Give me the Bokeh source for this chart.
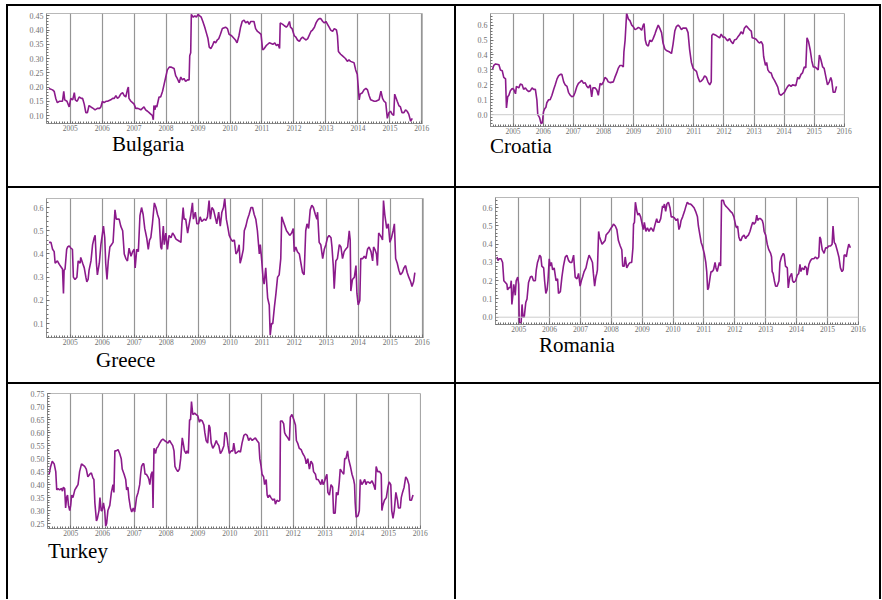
from bokeh.plotting import figure
from bokeh.layouts import row, column
from bokeh.models import (ColumnDataSource, Range1d, SingleIntervalTicker,
                          NumeralTickFormatter, Span, Div, Spacer)
from bokeh.embed import file_html
from bokeh.resources import INLINE

# ---------------- data (decimal year, value) ----------------
bulgaria_t = [2004.34,2004.45,2004.50,2004.55,2004.60,2004.66,2004.71,2004.76,2004.80,2004.83,
              2004.90,2004.97,2005.02,2005.08,2005.13,2005.16,2005.22,2005.28,2005.35,2005.39,
              2005.44,2005.49,2005.54,2005.59,2005.65,2005.72,2005.78,2005.85,2005.92,2005.96,
              2006.01,2006.06,2006.12,2006.17,2006.27,2006.33,2006.38,2006.43,2006.48,2006.53,
              2006.58,2006.64,2006.69,2006.74,2006.79,2006.82,2006.84,2006.90,2006.95,2007.00,
              2007.05,2007.12,2007.21,2007.26,2007.31,2007.36,2007.42,2007.47,2007.52,2007.57,
              2007.60,2007.62,2007.65,2007.68,2007.71,2007.75,2007.78,2007.83,2007.89,2007.94,
              2007.99,2008.04,2008.10,2008.15,2008.25,2008.30,2008.35,2008.41,2008.46,2008.51,
              2008.56,2008.61,2008.67,2008.72,2008.74,2008.77,2008.79,2008.85,2008.90,2008.95,
              2009.00,2009.05,2009.10,2009.15,2009.21,2009.26,2009.31,2009.35,2009.40,2009.45,
              2009.50,2009.55,2009.60,2009.65,2009.70,2009.76,2009.86,2009.92,2009.97,2010.05,
              2010.17,2010.22,2010.28,2010.33,2010.38,2010.44,2010.49,2010.55,2010.60,2010.65,
              2010.75,2010.80,2010.86,2010.92,2010.97,2011.02,2011.07,2011.13,2011.18,2011.23,
              2011.34,2011.40,2011.45,2011.50,2011.55,2011.57,2011.65,2011.70,2011.76,2011.80,
              2011.86,2011.89,2011.94,2012.01,2012.06,2012.11,2012.17,2012.22,2012.27,2012.32,
              2012.38,2012.43,2012.53,2012.58,2012.64,2012.69,2012.74,2012.79,2012.84,2012.90,
              2012.95,2013.00,2013.05,2013.10,2013.15,2013.21,2013.26,2013.33,2013.36,2013.39,
              2013.46,2013.51,2013.61,2013.67,2013.72,2013.77,2013.88,2013.93,2013.98,2014.04,
              2014.07,2014.14,2014.19,2014.25,2014.30,2014.35,2014.40,2014.51,2014.56,2014.66,
              2014.72,2014.77,2014.82,2014.87,2014.92,2014.97,2015.02,2015.07,2015.12,2015.15,
              2015.23,2015.28,2015.33,2015.38,2015.44,2015.49,2015.54,2015.59,2015.65,2015.70]
bulgaria_v = [0.195,0.19,0.185,0.16,0.145,0.15,0.15,0.15,0.185,0.155,
              0.15,0.13,0.16,0.155,0.18,0.155,0.15,0.165,0.16,0.16,
              0.14,0.11,0.11,0.135,0.13,0.125,0.12,0.125,0.125,0.13,
              0.15,0.145,0.15,0.15,0.155,0.16,0.16,0.17,0.16,0.165,
              0.175,0.18,0.17,0.165,0.19,0.20,0.16,0.15,0.145,0.14,
              0.125,0.125,0.12,0.125,0.13,0.12,0.115,0.11,0.105,0.10,
              0.085,0.135,0.12,0.135,0.13,0.15,0.165,0.165,0.185,0.21,
              0.235,0.26,0.27,0.27,0.265,0.24,0.23,0.215,0.235,0.225,
              0.23,0.22,0.225,0.225,0.31,0.32,0.455,0.445,0.45,0.445,
              0.455,0.45,0.445,0.43,0.41,0.39,0.37,0.34,0.335,0.345,
              0.36,0.355,0.365,0.37,0.385,0.405,0.41,0.405,0.385,0.38,
              0.365,0.355,0.38,0.41,0.43,0.435,0.425,0.43,0.42,0.43,
              0.43,0.405,0.395,0.39,0.385,0.33,0.335,0.345,0.35,0.355,
              0.35,0.355,0.345,0.35,0.335,0.425,0.42,0.415,0.41,0.415,
              0.43,0.41,0.405,0.38,0.375,0.365,0.36,0.37,0.375,0.37,
              0.365,0.37,0.395,0.40,0.41,0.425,0.435,0.44,0.44,0.43,
              0.425,0.43,0.42,0.41,0.40,0.395,0.405,0.40,0.38,0.325,
              0.315,0.31,0.30,0.29,0.295,0.29,0.285,0.26,0.245,0.155,
              0.175,0.18,0.19,0.195,0.19,0.17,0.155,0.15,0.15,0.155,
              0.185,0.16,0.15,0.145,0.09,0.11,0.115,0.105,0.10,0.175,
              0.15,0.135,0.13,0.11,0.11,0.12,0.115,0.105,0.08,0.09]

croatia_t = [2004.31,2004.36,2004.42,2004.53,2004.58,2004.64,2004.69,2004.75,2004.78,2004.82,
             2004.86,2004.91,2004.97,2005.02,2005.08,2005.11,2005.19,2005.24,2005.30,2005.35,
             2005.41,2005.46,2005.52,2005.57,2005.63,2005.68,2005.74,2005.79,2005.82,2005.88,
             2005.93,2005.97,2006.01,2006.05,2006.09,2006.12,2006.18,2006.23,2006.29,2006.35,
             2006.40,2006.46,2006.51,2006.57,2006.62,2006.68,2006.73,2006.79,2006.84,2006.90,
             2006.95,2007.01,2007.06,2007.12,2007.17,2007.23,2007.28,2007.34,2007.39,2007.45,
             2007.50,2007.56,2007.61,2007.65,2007.72,2007.78,2007.83,2007.89,2007.94,2008.00,
             2008.05,2008.11,2008.16,2008.22,2008.33,2008.38,2008.44,2008.49,2008.55,2008.61,
             2008.66,2008.68,2008.72,2008.77,2008.83,2008.88,2008.94,2008.99,2009.05,2009.10,
             2009.16,2009.21,2009.27,2009.32,2009.35,2009.39,2009.43,2009.49,2009.54,2009.60,
             2009.65,2009.71,2009.76,2009.82,2009.87,2009.93,2009.98,2010.04,2010.09,2010.20,
             2010.26,2010.31,2010.37,2010.42,2010.48,2010.53,2010.59,2010.64,2010.75,2010.81,
             2010.86,2010.92,2010.98,2011.03,2011.09,2011.14,2011.20,2011.25,2011.31,2011.36,
             2011.42,2011.47,2011.53,2011.58,2011.60,2011.64,2011.75,2011.86,2011.91,2011.97,
             2012.02,2012.08,2012.13,2012.19,2012.24,2012.30,2012.35,2012.41,2012.46,2012.52,
             2012.57,2012.63,2012.68,2012.74,2012.79,2012.85,2012.91,2012.94,2013.02,2013.07,
             2013.13,2013.18,2013.24,2013.29,2013.32,2013.38,2013.42,2013.46,2013.51,2013.57,
             2013.62,2013.68,2013.73,2013.79,2013.84,2013.90,2013.95,2014.01,2014.06,2014.12,
             2014.17,2014.23,2014.28,2014.39,2014.45,2014.50,2014.56,2014.61,2014.67,2014.72,
             2014.76,2014.81,2014.87,2014.92,2014.97,2015.02,2015.08,2015.13,2015.17,2015.22,
             2015.28,2015.33,2015.39,2015.44,2015.50,2015.55,2015.58,2015.63,2015.69,2015.74]
croatia_v = [0.30,0.33,0.34,0.335,0.30,0.295,0.25,0.24,0.045,0.12,
             0.13,0.16,0.175,0.17,0.14,0.19,0.18,0.205,0.20,0.17,
             0.18,0.165,0.155,0.16,0.18,0.17,0.17,0.10,0.0,-0.02,
             -0.06,-0.055,0.02,0.04,0.05,0.08,0.10,0.10,0.13,0.17,
             0.20,0.24,0.26,0.27,0.27,0.22,0.20,0.19,0.15,0.13,
             0.12,0.125,0.15,0.19,0.21,0.22,0.23,0.21,0.215,0.19,
             0.18,0.20,0.12,0.18,0.18,0.165,0.13,0.21,0.20,0.22,
             0.25,0.24,0.22,0.215,0.22,0.25,0.28,0.31,0.33,0.33,
             0.32,0.42,0.50,0.68,0.64,0.63,0.60,0.59,0.57,0.575,
             0.585,0.58,0.565,0.60,0.61,0.50,0.47,0.46,0.50,0.49,
             0.51,0.54,0.57,0.60,0.58,0.55,0.48,0.44,0.43,0.42,
             0.41,0.47,0.56,0.59,0.60,0.59,0.57,0.58,0.58,0.55,
             0.44,0.35,0.31,0.30,0.29,0.25,0.22,0.225,0.24,0.26,
             0.25,0.22,0.20,0.22,0.53,0.54,0.53,0.515,0.54,0.52,
             0.52,0.505,0.495,0.51,0.49,0.475,0.50,0.505,0.52,0.535,
             0.555,0.54,0.58,0.595,0.585,0.57,0.56,0.515,0.51,0.505,
             0.49,0.48,0.49,0.47,0.39,0.33,0.35,0.30,0.285,0.28,
             0.25,0.23,0.21,0.185,0.14,0.13,0.14,0.15,0.17,0.19,
             0.20,0.19,0.20,0.195,0.25,0.24,0.27,0.28,0.32,0.315,
             0.515,0.49,0.43,0.36,0.32,0.32,0.31,0.30,0.40,0.37,
             0.32,0.31,0.25,0.20,0.22,0.25,0.23,0.15,0.15,0.19]

greece_t = [2004.34,2004.40,2004.45,2004.50,2004.53,2004.60,2004.66,2004.71,2004.76,2004.79,
            2004.81,2004.84,2004.89,2004.92,2004.97,2005.02,2005.07,2005.10,2005.15,2005.21,
            2005.25,2005.31,2005.33,2005.39,2005.44,2005.49,2005.52,2005.56,2005.59,2005.65,
            2005.70,2005.75,2005.78,2005.82,2005.85,2005.91,2005.96,2006.01,2006.04,2006.08,
            2006.11,2006.15,2006.19,2006.24,2006.29,2006.34,2006.40,2006.44,2006.48,2006.53,
            2006.58,2006.64,2006.69,2006.74,2006.79,2006.84,2006.90,2006.95,2007.00,2007.03,
            2007.08,2007.13,2007.18,2007.23,2007.28,2007.33,2007.39,2007.44,2007.48,2007.52,
            2007.57,2007.63,2007.68,2007.73,2007.78,2007.83,2007.86,2007.91,2007.94,2007.99,
            2008.04,2008.09,2008.15,2008.20,2008.25,2008.30,2008.35,2008.41,2008.46,2008.49,
            2008.53,2008.56,2008.61,2008.67,2008.72,2008.77,2008.82,2008.85,2008.91,2008.96,
            2009.01,2009.06,2009.11,2009.19,2009.24,2009.29,2009.34,2009.38,2009.43,2009.48,
            2009.53,2009.58,2009.64,2009.69,2009.74,2009.79,2009.83,2009.88,2009.92,2009.97,
            2010.02,2010.07,2010.13,2010.18,2010.23,2010.28,2010.31,2010.35,2010.41,2010.44,
            2010.49,2010.54,2010.59,2010.65,2010.70,2010.75,2010.80,2010.85,2010.91,2010.94,
            2010.98,2011.03,2011.06,2011.11,2011.17,2011.22,2011.25,2011.29,2011.33,2011.38,
            2011.43,2011.48,2011.53,2011.58,2011.61,2011.66,2011.71,2011.76,2011.81,2011.86,
            2011.92,2011.97,2012.00,2012.05,2012.10,2012.16,2012.21,2012.26,2012.31,2012.36,
            2012.40,2012.45,2012.50,2012.55,2012.60,2012.66,2012.71,2012.73,2012.78,2012.83,
            2012.89,2012.94,2012.99,2013.04,2013.09,2013.15,2013.18,2013.22,2013.25,2013.30,
            2013.35,2013.41,2013.46,2013.51,2013.56,2013.61,2013.67,2013.72,2013.75,2013.77,
            2013.82,2013.88,2013.93,2013.96,2014.00,2014.05,2014.08,2014.14,2014.19,2014.24,
            2014.29,2014.34,2014.40,2014.45,2014.48,2014.52,2014.57,2014.60,2014.64,2014.69,
            2014.73,2014.76,2014.79,2014.83,2014.89,2014.94,2014.99,2015.04,2015.09,2015.13,
            2015.17,2015.22,2015.27,2015.32,2015.38,2015.43,2015.48,2015.53,2015.58,2015.64,
            2015.68,2015.73,2015.77]
greece_v = [0.45,0.45,0.42,0.41,0.36,0.37,0.355,0.345,0.335,0.23,
            0.33,0.335,0.42,0.43,0.435,0.425,0.42,0.30,0.29,0.30,
            0.37,0.36,0.385,0.36,0.34,0.30,0.28,0.29,0.33,0.37,
            0.44,0.47,0.48,0.36,0.31,0.36,0.44,0.49,0.52,0.47,
            0.36,0.29,0.37,0.43,0.44,0.45,0.59,0.55,0.55,0.55,
            0.52,0.50,0.40,0.38,0.37,0.425,0.39,0.41,0.42,0.34,
            0.42,0.41,0.565,0.60,0.57,0.51,0.47,0.42,0.46,0.47,
            0.53,0.62,0.60,0.57,0.55,0.43,0.42,0.52,0.44,0.49,
            0.42,0.48,0.47,0.49,0.48,0.465,0.46,0.455,0.45,0.53,
            0.60,0.55,0.55,0.49,0.53,0.57,0.62,0.55,0.58,0.53,
            0.53,0.56,0.54,0.55,0.545,0.56,0.63,0.55,0.60,0.59,
            0.56,0.53,0.58,0.52,0.58,0.60,0.64,0.55,0.52,0.48,
            0.465,0.455,0.46,0.40,0.41,0.44,0.36,0.38,0.42,0.50,
            0.52,0.55,0.57,0.60,0.60,0.57,0.55,0.50,0.40,0.44,
            0.38,0.29,0.27,0.34,0.21,0.18,0.05,0.10,0.10,0.17,
            0.23,0.30,0.31,0.38,0.56,0.54,0.52,0.50,0.49,0.48,
            0.49,0.51,0.41,0.43,0.41,0.40,0.36,0.32,0.31,0.50,
            0.53,0.51,0.59,0.61,0.60,0.57,0.55,0.58,0.45,0.44,
            0.38,0.42,0.44,0.47,0.48,0.47,0.43,0.35,0.25,0.37,
            0.38,0.44,0.43,0.38,0.41,0.42,0.43,0.50,0.46,0.24,
            0.29,0.30,0.35,0.23,0.18,0.20,0.38,0.38,0.39,0.38,
            0.42,0.43,0.41,0.37,0.43,0.42,0.40,0.35,0.49,0.48,
            0.47,0.46,0.63,0.57,0.51,0.53,0.45,0.47,0.50,0.53,
            0.38,0.36,0.33,0.31,0.32,0.34,0.35,0.32,0.30,0.28,
            0.26,0.28,0.32]

romania_t = [2004.30,2004.33,2004.37,2004.43,2004.48,2004.52,2004.57,2004.62,2004.64,2004.70,
             2004.73,2004.76,2004.78,2004.82,2004.84,2004.87,2004.89,2004.92,2004.97,2005.00,
             2005.02,2005.08,2005.11,2005.14,2005.18,2005.23,2005.27,2005.32,2005.38,2005.43,
             2005.48,2005.54,2005.57,2005.61,2005.65,2005.68,2005.72,2005.75,2005.81,2005.84,
             2005.88,2005.92,2005.95,2005.99,2006.02,2006.06,2006.10,2006.15,2006.21,2006.26,
             2006.29,2006.35,2006.40,2006.45,2006.51,2006.56,2006.62,2006.67,2006.72,2006.78,
             2006.80,2006.83,2006.89,2006.94,2006.99,2007.03,2007.07,2007.12,2007.18,2007.23,
             2007.28,2007.34,2007.39,2007.42,2007.46,2007.50,2007.53,2007.55,2007.59,2007.62,
             2007.66,2007.70,2007.75,2007.80,2007.83,2007.88,2007.93,2007.96,2008.00,2008.04,
             2008.07,2008.13,2008.18,2008.23,2008.29,2008.34,2008.37,2008.42,2008.45,2008.50,
             2008.56,2008.61,2008.66,2008.70,2008.72,2008.75,2008.78,2008.83,2008.86,2008.90,
             2008.95,2009.01,2009.04,2009.07,2009.12,2009.17,2009.22,2009.28,2009.33,2009.36,
             2009.42,2009.47,2009.50,2009.55,2009.60,2009.66,2009.69,2009.72,2009.76,2009.80,
             2009.85,2009.90,2009.94,2009.99,2010.04,2010.10,2010.15,2010.19,2010.23,2010.26,
             2010.31,2010.37,2010.42,2010.46,2010.52,2010.57,2010.63,2010.68,2010.73,2010.79,
             2010.82,2010.87,2010.91,2010.95,2010.98,2011.01,2011.06,2011.09,2011.12,2011.15,
             2011.20,2011.23,2011.27,2011.31,2011.36,2011.39,2011.43,2011.47,2011.50,2011.54,
             2011.57,2011.63,2011.66,2011.70,2011.76,2011.81,2011.86,2011.92,2011.97,2012.03,
             2012.06,2012.09,2012.13,2012.17,2012.20,2012.24,2012.30,2012.35,2012.38,2012.44,
             2012.49,2012.54,2012.58,2012.62,2012.67,2012.71,2012.74,2012.78,2012.83,2012.89,
             2012.92,2012.95,2013.00,2013.05,2013.10,2013.16,2013.19,2013.21,2013.24,2013.28,
             2013.32,2013.37,2013.43,2013.46,2013.51,2013.57,2013.60,2013.64,2013.70,2013.73,
             2013.78,2013.84,2013.87,2013.91,2013.97,2014.02,2014.07,2014.11,2014.14,2014.18,
             2014.24,2014.27,2014.32,2014.34,2014.40,2014.45,2014.50,2014.56,2014.61,2014.67,
             2014.72,2014.75,2014.78,2014.83,2014.86,2014.89,2014.94,2014.99,2015.04,2015.10,
             2015.15,2015.18,2015.22,2015.26,2015.31,2015.37,2015.42,2015.47,2015.51,2015.54,
             2015.58,2015.61,2015.65,2015.69,2015.72,2015.74]
romania_v = [0.33,0.31,0.32,0.32,0.30,0.20,0.19,0.18,0.15,0.165,
             0.16,0.20,0.07,0.13,0.18,0.15,0.12,0.20,0.22,0.18,
             -0.03,-0.03,0.07,0.00,0.00,0.08,0.10,0.19,0.22,0.225,
             0.20,0.20,0.26,0.30,0.32,0.34,0.33,0.28,0.27,0.20,
             0.13,0.15,0.20,0.32,0.28,0.30,0.26,0.27,0.20,0.21,
             0.13,0.14,0.22,0.28,0.33,0.34,0.31,0.30,0.30,0.34,
             0.29,0.22,0.21,0.24,0.17,0.20,0.22,0.25,0.27,0.31,
             0.34,0.32,0.30,0.24,0.17,0.22,0.24,0.26,0.47,0.44,
             0.42,0.40,0.41,0.42,0.45,0.46,0.47,0.48,0.49,0.50,
             0.51,0.50,0.48,0.42,0.39,0.37,0.28,0.28,0.33,0.27,
             0.29,0.30,0.30,0.38,0.51,0.52,0.63,0.58,0.56,0.57,
             0.55,0.50,0.48,0.52,0.47,0.49,0.47,0.49,0.48,0.47,
             0.51,0.54,0.52,0.52,0.54,0.61,0.60,0.62,0.58,0.62,
             0.63,0.60,0.55,0.55,0.545,0.53,0.54,0.48,0.50,0.53,
             0.55,0.58,0.61,0.63,0.62,0.62,0.61,0.60,0.58,0.55,
             0.50,0.45,0.41,0.39,0.37,0.35,0.30,0.25,0.15,0.16,
             0.22,0.25,0.25,0.26,0.30,0.27,0.25,0.28,0.30,0.28,
             0.64,0.64,0.62,0.61,0.60,0.59,0.58,0.57,0.55,0.50,
             0.49,0.50,0.44,0.42,0.42,0.44,0.45,0.43,0.44,0.45,
             0.47,0.50,0.52,0.51,0.52,0.56,0.53,0.54,0.54,0.53,
             0.51,0.47,0.45,0.40,0.37,0.35,0.33,0.25,0.24,0.20,
             0.17,0.17,0.20,0.30,0.33,0.35,0.34,0.28,0.27,0.16,
             0.22,0.24,0.20,0.19,0.20,0.23,0.24,0.29,0.25,0.27,
             0.26,0.28,0.27,0.23,0.29,0.31,0.32,0.32,0.33,0.32,
             0.33,0.44,0.43,0.37,0.36,0.35,0.38,0.38,0.39,0.39,
             0.40,0.50,0.41,0.40,0.37,0.33,0.27,0.25,0.26,0.34,
             0.34,0.33,0.37,0.40,0.39,0.38]

turkey_t = [2004.32,2004.37,2004.42,2004.48,2004.53,2004.56,2004.60,2004.65,2004.71,2004.74,
            2004.77,2004.81,2004.84,2004.87,2004.90,2004.93,2004.97,2005.00,2005.03,2005.07,
            2005.13,2005.18,2005.23,2005.28,2005.34,2005.39,2005.44,2005.49,2005.54,2005.60,
            2005.65,2005.70,2005.73,2005.76,2005.81,2005.84,2005.89,2005.92,2005.96,2005.99,
            2006.03,2006.07,2006.10,2006.13,2006.17,2006.23,2006.28,2006.33,2006.36,2006.39,
            2006.43,2006.49,2006.54,2006.59,2006.62,2006.68,2006.73,2006.76,2006.80,2006.83,
            2006.88,2006.92,2006.97,2007.01,2007.04,2007.07,2007.12,2007.17,2007.20,2007.23,
            2007.27,2007.30,2007.34,2007.38,2007.43,2007.46,2007.49,2007.53,2007.57,2007.59,
            2007.62,2007.67,2007.70,2007.74,2007.80,2007.85,2007.90,2007.95,2008.01,2008.06,
            2008.11,2008.16,2008.21,2008.25,2008.28,2008.32,2008.37,2008.42,2008.46,2008.51,
            2008.54,2008.58,2008.63,2008.66,2008.70,2008.74,2008.77,2008.80,2008.84,2008.90,
            2008.95,2009.00,2009.05,2009.08,2009.14,2009.19,2009.22,2009.26,2009.31,2009.35,
            2009.38,2009.42,2009.47,2009.52,2009.58,2009.61,2009.66,2009.71,2009.76,2009.82,
            2009.85,2009.89,2009.92,2009.95,2009.99,2010.05,2010.10,2010.13,2010.18,2010.24,
            2010.29,2010.34,2010.39,2010.45,2010.50,2010.55,2010.60,2010.65,2010.71,2010.76,
            2010.81,2010.86,2010.92,2010.95,2010.99,2011.02,2011.07,2011.10,2011.15,2011.18,
            2011.21,2011.25,2011.30,2011.36,2011.41,2011.44,2011.49,2011.54,2011.58,2011.60,
            2011.65,2011.70,2011.73,2011.77,2011.83,2011.88,2011.91,2011.96,2012.02,2012.07,
            2012.10,2012.14,2012.19,2012.25,2012.30,2012.35,2012.38,2012.41,2012.46,2012.51,
            2012.56,2012.61,2012.64,2012.70,2012.73,2012.78,2012.83,2012.87,2012.91,2012.94,
            2012.98,2013.03,2013.06,2013.09,2013.14,2013.19,2013.24,2013.27,2013.32,2013.36,
            2013.41,2013.45,2013.48,2013.53,2013.59,2013.62,2013.66,2013.71,2013.74,2013.80,
            2013.85,2013.90,2013.93,2013.95,2013.98,2014.04,2014.08,2014.11,2014.16,2014.21,
            2014.25,2014.29,2014.32,2014.37,2014.42,2014.48,2014.53,2014.58,2014.61,2014.66,
            2014.72,2014.77,2014.79,2014.82,2014.87,2014.93,2014.98,2015.02,2015.07,2015.10,
            2015.14,2015.18,2015.23,2015.28,2015.31,2015.37,2015.40,2015.44,2015.49,2015.54,
            2015.59,2015.64,2015.67,2015.72,2015.77]
turkey_v = [0.44,0.47,0.49,0.48,0.45,0.38,0.385,0.38,0.385,0.375,
            0.39,0.385,0.31,0.35,0.36,0.32,0.30,0.32,0.36,0.35,
            0.38,0.39,0.40,0.45,0.48,0.475,0.47,0.46,0.43,0.44,
            0.445,0.425,0.42,0.33,0.26,0.27,0.30,0.35,0.30,0.30,
            0.33,0.30,0.24,0.25,0.30,0.32,0.37,0.40,0.37,0.53,
            0.53,0.535,0.52,0.50,0.46,0.44,0.42,0.38,0.39,0.35,
            0.31,0.295,0.31,0.295,0.32,0.35,0.37,0.40,0.44,0.47,
            0.48,0.48,0.44,0.44,0.43,0.42,0.40,0.44,0.45,0.31,
            0.54,0.52,0.54,0.545,0.56,0.57,0.575,0.57,0.565,0.56,
            0.57,0.56,0.55,0.53,0.47,0.46,0.45,0.46,0.50,0.58,
            0.56,0.53,0.52,0.53,0.52,0.65,0.65,0.72,0.67,0.675,
            0.67,0.665,0.64,0.65,0.645,0.63,0.60,0.57,0.56,0.63,
            0.62,0.56,0.54,0.55,0.57,0.56,0.55,0.52,0.53,0.55,
            0.60,0.60,0.58,0.55,0.52,0.53,0.53,0.56,0.52,0.525,
            0.53,0.525,0.56,0.59,0.595,0.59,0.57,0.58,0.57,0.575,
            0.58,0.57,0.56,0.50,0.47,0.44,0.43,0.40,0.42,0.36,
            0.35,0.36,0.35,0.34,0.345,0.325,0.34,0.335,0.34,0.645,
            0.645,0.635,0.60,0.59,0.58,0.57,0.66,0.67,0.65,0.63,
            0.57,0.56,0.54,0.535,0.52,0.51,0.50,0.48,0.50,0.46,
            0.49,0.48,0.45,0.44,0.42,0.42,0.41,0.40,0.42,0.40,
            0.41,0.43,0.44,0.37,0.36,0.40,0.39,0.29,0.29,0.37,
            0.36,0.41,0.46,0.45,0.44,0.50,0.50,0.53,0.50,0.47,
            0.44,0.42,0.40,0.33,0.275,0.28,0.30,0.42,0.40,0.41,
            0.42,0.40,0.41,0.41,0.405,0.415,0.40,0.38,0.47,0.45,
            0.45,0.44,0.30,0.32,0.34,0.35,0.39,0.41,0.40,0.30,
            0.27,0.30,0.37,0.34,0.31,0.31,0.35,0.37,0.39,0.43,
            0.42,0.40,0.34,0.34,0.36]

LINE_COLOR = "#8b1a8b"
MBB = 11  # space kept under each frame for the year labels


def chart(t, v, w, h, bl, br, bt, xr, yr, step, fmt, zero=False):
    n = min(len(t), len(v))
    src = ColumnDataSource(dict(t=t[:n], v=v[:n]))
    p = figure(width=w, height=h, x_range=Range1d(*xr), y_range=Range1d(*yr),
               output_backend="svg", toolbar_location=None, tools="",
               min_border_left=bl, min_border_right=br,
               min_border_top=bt, min_border_bottom=MBB,
               background_fill_color="white", border_fill_color="white",
               outline_line_color="#b8b8b8", outline_line_width=1)
    p.xaxis.ticker = SingleIntervalTicker(interval=1, num_minor_ticks=12)
    p.yaxis.ticker = SingleIntervalTicker(interval=step, num_minor_ticks=5)
    p.yaxis.formatter = NumeralTickFormatter(format=fmt)
    for ax in (p.xaxis[0], p.yaxis[0]):
        ax.axis_line_color = "#8c8c8c"
        ax.major_tick_in = 3
        ax.major_tick_out = 0
        ax.minor_tick_in = 2
        ax.minor_tick_out = 0
        ax.major_tick_line_color = "#707070"
        ax.minor_tick_line_color = "#707070"
        ax.major_label_text_font = "Liberation Serif"
        ax.major_label_text_color = "#707070"
    p.xaxis.major_label_text_font_size = "7.5px"
    p.yaxis.major_label_text_font_size = "8px"
    p.xaxis.major_label_standoff = 1
    p.yaxis.major_label_standoff = 3
    p.xgrid.grid_line_color = "#959595"
    p.xgrid.grid_line_width = 1.2
    p.ygrid.visible = False
    if zero:
        p.add_layout(Span(location=0, dimension="width",
                          line_color="#cccccc", line_width=1))
    p.line("t", "v", source=src, line_color=LINE_COLOR, line_width=1.6)
    return p


def name_box(name, w, h, pad_left, pad_top):
    html = ('<div style="padding-left:%dpx;padding-top:%dpx;'
            'font-family:\'Liberation Serif\',\'Times New Roman\',serif;'
            'font-size:21px;line-height:18px;color:black;white-space:nowrap;">%s</div>'
            % (pad_left, pad_top, name))
    return Div(text=html, width=w, height=h, margin=0)


# table geometry: left column cells 446 wide, right column cells 423 wide
p_bg = chart(bulgaria_t, bulgaria_v, 446, 128, 38, 32, 7,
             (2004.26, 2016.02), (0.072, 0.458), 0.05, "0.00")
c_bg = column(p_bg, name_box("Bulgaria", 446, 52, 104, 1))

p_hr = chart(croatia_t, croatia_v, 423, 131, 34, 35, 7,
             (2004.25, 2016.005), (-0.079, 0.678), 0.1, "0.0", zero=True)
c_hr = column(p_hr, name_box("Croatia", 423, 49, 34, 0))

p_gr = chart(greece_t, greece_v, 446, 160, 38, 31, 10,
             (2004.26, 2016.04), (0.04, 0.639), 0.1, "0.0")
c_gr = column(p_gr, name_box("Greece", 446, 34, 88, 3))

p_ro = chart(romania_t, romania_v, 423, 147, 39, 21, 9,
             (2004.25, 2016.005), (-0.040, 0.656), 0.1, "0.0", zero=True)
c_ro = column(p_ro, name_box("Romania", 423, 47, 83, 1))

p_tr = chart(turkey_t, turkey_v, 446, 155, 39, 34, 9,
             (2004.27, 2016.005), (0.231, 0.751), 0.05, "0.00")
c_tr = column(p_tr, name_box("Turkey", 446, 60, 40, 3))


def bar(w, h):
    return Div(text="", width=w, height=h, margin=0,
               styles={"background-color": "black"})


table = column(
    bar(875, 2),
    row(bar(2, 180), c_bg, bar(2, 180), c_hr, bar(2, 180)),
    bar(875, 2),
    row(bar(2, 194), c_gr, bar(2, 194), c_ro, bar(2, 194)),
    bar(875, 2),
    row(bar(2, 215), c_tr, bar(2, 215), Spacer(width=423, height=215), bar(2, 215)),
)

root = row(Spacer(width=6, height=599),
           column(Spacer(width=875, height=4), table))

open("out.html", "w").write(file_html(root, INLINE))
